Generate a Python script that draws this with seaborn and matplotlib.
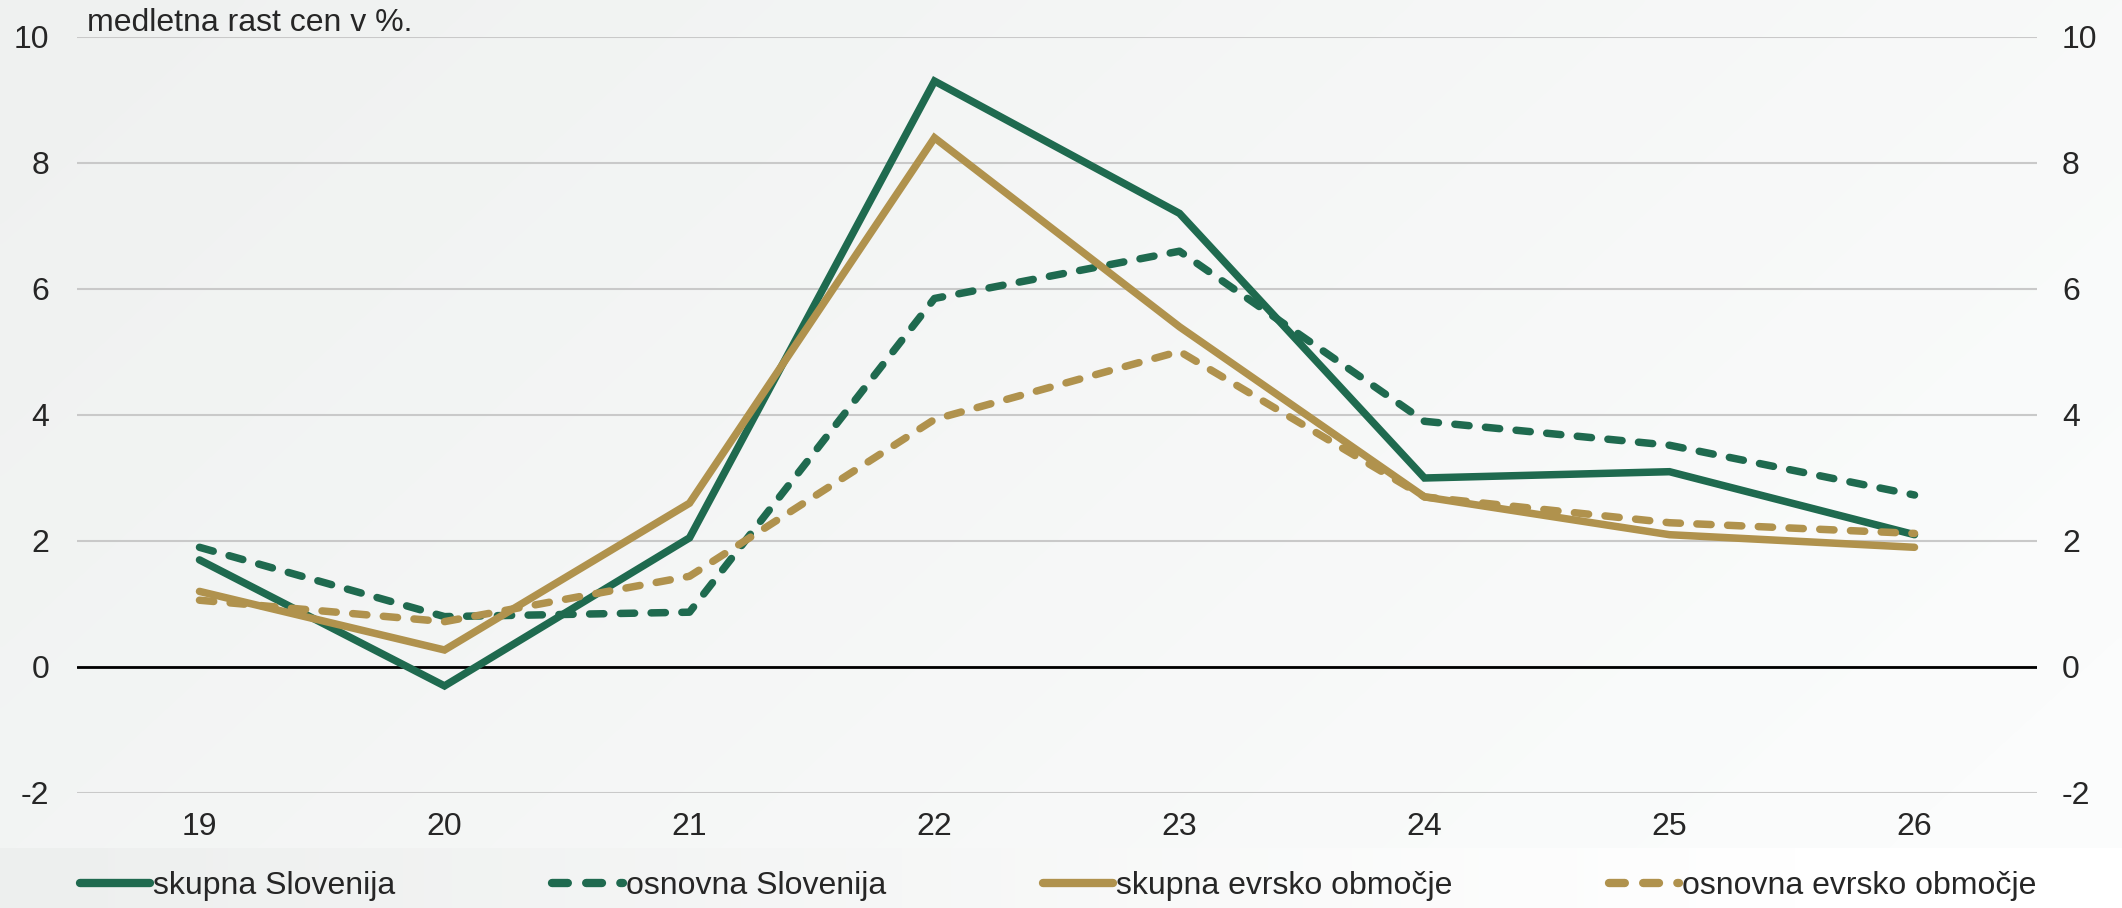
import numpy as np
import pandas as pd
import matplotlib
matplotlib.use("Agg")
import matplotlib.pyplot as plt
from matplotlib.colors import LinearSegmentedColormap
import seaborn as sns

# podatki (medletna rast cen v %)
leta = ["19", "20", "21", "22", "23", "24", "25", "26"]
skupna_si = [1.7, -0.3, 2.05, 9.3, 7.2, 3.0, 3.1, 2.1]
osnovna_si = [1.9, 0.8, 0.87, 5.85, 6.6, 3.9, 3.52, 2.73]
skupna_ea = [1.2, 0.27, 2.6, 8.4, 5.4, 2.7, 2.1, 1.9]
osnovna_ea = [1.06, 0.72, 1.44, 3.93, 5.01, 2.7, 2.29, 2.12]

imena = ["skupna Slovenija", "osnovna Slovenija",
         "skupna evrsko območje", "osnovna evrsko območje"]
serije = [skupna_si, osnovna_si, skupna_ea, osnovna_ea]

zelena = "#1f6a4f"
zlata = "#b0924d"
barve = {imena[0]: zelena, imena[1]: zelena, imena[2]: zlata, imena[3]: zlata}
crte = {imena[0]: "", imena[1]: (1.9, 2.2), imena[2]: "", imena[3]: (1.9, 2.2)}

df = pd.DataFrame({
    "leto": leta * 4,
    "vrednost": sum(serije, []),
    "serija": np.repeat(imena, len(leta)),
})

sns.set_style("white")
plt.rcParams["font.family"] = ["Liberation Sans", "DejaVu Sans"]
plt.rcParams["axes.unicode_minus"] = False
fs = 23

W, H = 2122, 908
fig = plt.figure(figsize=(W / 100, H / 100), dpi=100)

# ozadje z gradientom
bg = fig.add_axes([0, 0, 1, 1], zorder=-10)
xx, yy = np.meshgrid(np.linspace(0, 1, 400), np.linspace(0, 1, 200))
grad = np.clip(0.75 * xx + 0.35 * yy, 0, 1)
cmap_bg = LinearSegmentedColormap.from_list("bg", ["#eff1f0", "#fbfcfc"])
bg.imshow(grad, cmap=cmap_bg, aspect="auto", extent=[0, 1, 0, 1],
          origin="upper", interpolation="bicubic")
band_h = 60 / H
xb = np.linspace(0, 1, 400)[None, :]
cmap_band = LinearSegmentedColormap.from_list("band", ["#edefee", "#ffffff"])
bg.imshow(np.clip(xb / 0.85, 0, 1), cmap=cmap_band, aspect="auto",
          extent=[0, 1, 0, band_h], interpolation="bicubic")
bg.set_xlim(0, 1)
bg.set_ylim(0, 1)
bg.axis("off")

left, right = 77 / W, 2037 / W
bottom, top = (H - 793) / H, (H - 37) / H
ax = fig.add_axes([left, bottom, right - left, top - bottom])
ax.set_facecolor("none")

sns.lineplot(data=df, x="leto", y="vrednost", hue="serija", style="serija",
             palette=barve, dashes=crte, lw=5.4, ax=ax, sort=False,
             dash_capstyle="round", solid_capstyle="round",
             solid_joinstyle="miter")

ax.set_ylim(-2, 10)
ax.set_xlim(-0.5, 7.5)
ax.set_yticks(range(-2, 11, 2))
ax.grid(axis="y", color="#c9c9c9", lw=1.5)
ax.axhline(0, color="black", lw=2, zorder=1)
for s in ax.spines.values():
    s.set_visible(False)
ax.set_xlabel("")
ax.set_ylabel("")
ax.tick_params(axis="y", length=0, pad=20, labelsize=fs)
ax.tick_params(axis="x", length=0, pad=14, labelsize=fs)

ax2 = ax.twinx()
ax2.set_ylim(ax.get_ylim())
ax2.set_yticks(range(-2, 11, 2))
ax2.tick_params(axis="y", length=0, pad=18, labelsize=fs)
for s in ax2.spines.values():
    s.set_visible(False)

handles, labels = ax.get_legend_handles_labels()
ax.get_legend().remove()
leg = fig.legend(handles, labels, loc="center left", ncol=4,
                 bbox_to_anchor=(80 / W, (H - 886) / H), frameon=False,
                 fontsize=fs, handlelength=2.2, handletextpad=0.1,
                 columnspacing=4.9, borderaxespad=0, borderpad=0)
for h in leg.get_lines():
    h.set_linewidth(6)

fig.text(87 / W, (H - 31) / H, "medletna rast cen v %.", fontsize=fs,
         ha="left", va="baseline")

fig.savefig("out.png", dpi=100)
